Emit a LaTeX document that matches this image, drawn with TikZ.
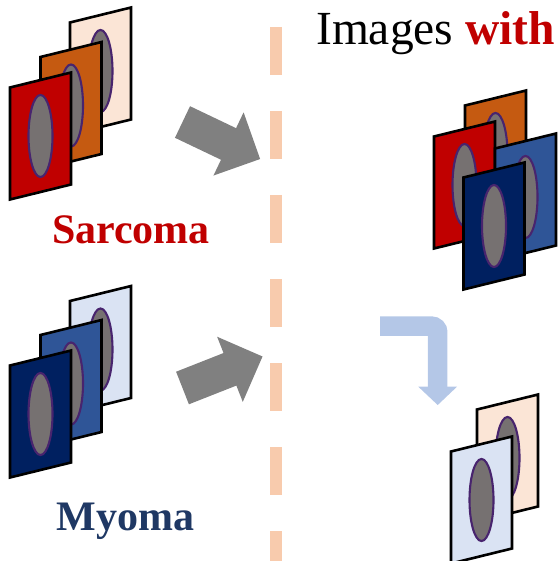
\documentclass[tikz,border=0pt]{standalone}
\usepackage{fontspec}
\setmainfont{Liberation Serif}
\definecolor{sarcred}{HTML}{C00000}
\definecolor{rust}{HTML}{C55A11}
\definecolor{peach}{HTML}{FBE5D6}
\definecolor{navy}{HTML}{002060}
\definecolor{midblue}{HTML}{2F5597}
\definecolor{paleblue}{HTML}{DAE3F3}
\definecolor{myomablue}{HTML}{1F3864}
\definecolor{lesiongray}{HTML}{767171}
\definecolor{lesionrim}{RGB}{72,36,110}
\definecolor{divider}{HTML}{F8CBAD}
\definecolor{flowgray}{HTML}{808080}
\definecolor{flowblue}{HTML}{B4C7E7}
\tikzset{
  slideedge/.style={draw=black, line width=2.6pt, line join=miter},
  lesion/.style={draw=lesionrim, line width=2.1pt, fill=lesiongray},
  pics/slide/.style={code={
    \draw[slideedge, fill=#1] (0,0) -- (61,-15) -- (61,97) -- (0,112) -- cycle;
    \draw[lesion] (30.5,48.5) ellipse [x radius=12pt, y radius=41pt];
  }},
  label/.style={inner sep=0pt, font=\bfseries\fontsize{42}{46}\selectfont},
  fatarrow/.style={fill=flowgray},
}
\begin{document}
\begin{tikzpicture}[x=1pt, y=-1pt]
\useasboundingbox (0,0) rectangle (559,561);

% vertical dashed divider
\coordinate (divtop) at (276,27);
\coordinate (divbot) at (276,561);
\draw[divider, line width=12pt, dash pattern=on 48pt off 36pt] (divtop) -- (divbot);

% sarcoma stack
\pic at (70,22.5) {slide=peach};
\pic at (40.5,57) {slide=rust};
\pic at (10,87.5) {slide=sarcred};
\node[label, text=sarcred, anchor=base] (sarcoma) at (131,243) {Sarcoma};

% myoma stack
\pic at (70,301) {slide=paleblue};
\pic at (40.5,335) {slide=midblue};
\pic at (10,365.5) {slide=navy};
\node[label, text=myomablue, anchor=base] (myoma) at (125.5,530) {Myoma};

% block arrows towards the divider
\begin{scope}[shift={(182.5,122)}, rotate=-25.5]
  \fill[fatarrow] (0,-17.5) -- (51,-17.5) -- (51,-35) -- (86,0) -- (51,35) -- (51,17.5) -- (0,17.5) -- cycle;
\end{scope}
\begin{scope}[shift={(182.5,388)}, rotate=21.5]
  \fill[fatarrow] (0,-17.5) -- (51,-17.5) -- (51,-35) -- (86,0) -- (51,35) -- (51,17.5) -- (0,17.5) -- cycle;
\end{scope}

% heading
\node[inner sep=0pt, anchor=base west, font=\fontsize{47.5}{52}\selectfont] (title) at (316,45)
  {Images \textcolor{sarcred}{\bfseries with}};

% mixed stack
\pic at (465,105.5) {slide=rust};
\pic at (434,136.5) {slide=sarcred};
\pic at (495,148.5) {slide=midblue};
\pic at (463.5,177.5) {slide=navy};

% bent arrow
\coordinate (bendstart) at (380,326.2);
\coordinate (bendcorner) at (437.7,326.2);
\coordinate (bendend) at (437.7,388);
\draw[flowblue, line width=19.5pt, rounded corners=6pt] (bendstart) -- (bendcorner) -- (bendend);
\fill[flowblue] (418.3,386.7) -- (457,386.7) -- (437.7,405) -- cycle;

% pair of slides
\pic at (477,409.5) {slide=peach};
\pic at (451,451.5) {slide=paleblue};
\end{tikzpicture}
\end{document}
